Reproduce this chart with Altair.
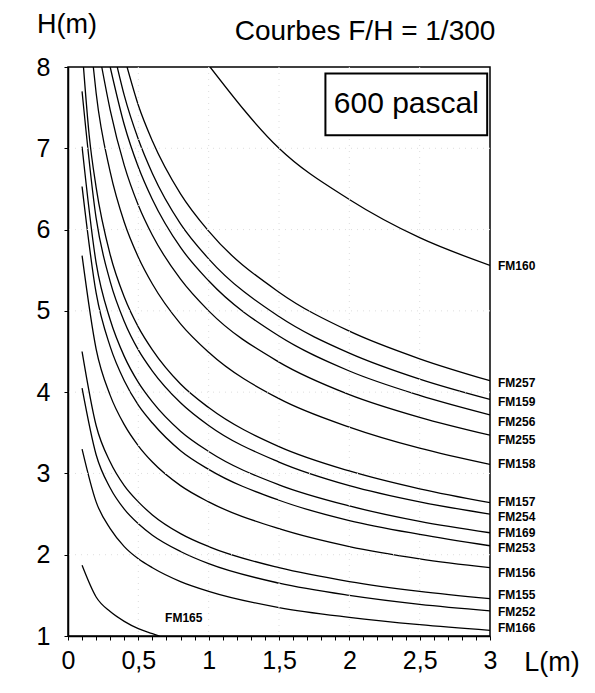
import altair as alt
import pandas as pd

# ---- data ----
grid_L = [0.1, 0.2, 0.3, 0.4, 0.5, 0.6, 0.8, 1.0, 1.5, 2.0, 2.5, 3.0]

FM160_L = [1.01, 1.5, 2.0, 2.5, 3.0]
FM160_H = [8.0, 7.0, 6.37, 5.9, 5.56]
FM257_L = [0.42, 0.5, 0.6, 0.8, 1.0, 1.5, 2.0, 2.5, 3.0]
FM257_H = [8.0, 7.53, 7.09, 6.44, 5.98, 5.23, 4.75, 4.41, 4.14]
FM159_L = [0.35, 0.4, 0.5, 0.6, 0.8, 1.0, 1.5, 2.0, 2.5, 3.0]
FM159_H = [8.0, 7.65, 7.11, 6.69, 6.07, 5.64, 4.93, 4.48, 4.16, 3.91]
FM256_L = [0.30, 0.4, 0.5, 0.6, 0.8, 1.0, 1.5, 2.0, 2.5, 3.0]
FM256_H = [8.0, 7.29, 6.77, 6.37, 5.78, 5.37, 4.69, 4.26, 3.96, 3.72]
FM255_L = [0.24, 0.3, 0.4, 0.5, 0.6, 0.8, 1.0, 1.5, 2.0, 2.5, 3.0]
FM255_H = [8.0, 7.47, 6.79, 6.30, 5.93, 5.39, 5.0, 4.37, 3.97, 3.69, 3.47]
FM158_L = [0.18, 0.2, 0.3, 0.4, 0.5, 0.6, 0.8, 1.0, 1.5, 2.0, 2.5, 3.0]
FM158_H = [8.0, 7.68, 6.71, 6.09, 5.66, 5.33, 4.84, 4.49, 3.92, 3.57, 3.31, 3.11]
FM157_L = [0.11, 0.15, 0.2, 0.3, 0.4, 0.5, 0.6, 0.8, 1.0, 1.5, 2.0, 2.5, 3.0]
FM157_H = [8.0, 7.17, 6.52, 5.69, 5.17, 4.80, 4.52, 4.10, 3.81, 3.33, 3.03, 2.81, 2.64]
FM254_H = [7.70, 6.14, 5.36, 4.87, 4.52, 4.26, 3.87, 3.59, 3.14, 2.85, 2.65, 2.50]
FM169_H = [7.02, 5.59, 4.89, 4.44, 4.12, 3.88, 3.52, 3.27, 2.86, 2.60, 2.41, 2.27]
FM253_H = [6.53, 5.22, 4.56, 4.14, 3.84, 3.62, 3.28, 3.05, 2.67, 2.42, 2.25, 2.11]
FM156_H = [5.68, 4.53, 3.96, 3.60, 3.34, 3.14, 2.85, 2.65, 2.32, 2.10, 1.95, 1.84]
FM155_H = [4.50, 3.59, 3.14, 2.85, 2.65, 2.49, 2.26, 2.10, 1.84, 1.67, 1.55, 1.46]
FM252_H = [4.05, 3.23, 2.82, 2.56, 2.38, 2.24, 2.04, 1.89, 1.65, 1.50, 1.39, 1.31]
FM166_H = [3.30, 2.65, 2.32, 2.10, 1.95, 1.84, 1.67, 1.55, 1.35, 1.23, 1.14, 1.07]
FM165_L = [0.1, 0.2, 0.3, 0.4, 0.5, 0.6, 0.65]
FM165_H = [1.87, 1.48, 1.30, 1.18, 1.09, 1.03, 1.0]

right_labels = ["FM160", "FM257", "FM159", "FM256", "FM255", "FM158", "FM157",
                "FM254", "FM169", "FM253", "FM156", "FM155", "FM252", "FM166"]
right_label_H = [5.55, 4.11, 3.88, 3.63, 3.41, 3.12, 2.65,
                 2.47, 2.27, 2.08, 1.78, 1.51, 1.29, 1.10]
inner_label = "FM165"
inner_label_L = 0.69
inner_label_H = 1.22

box_text = "600 pascal"
box_L = [1.83, 2.98]
box_H = [7.16, 7.92]

grid_L_lines = [0.5, 1.0, 1.5, 2.0, 2.5]
grid_H_lines = [2, 3, 4, 5, 6, 7]

x_tick_values = [round(i * 0.1, 1) for i in range(31)]
y_tick_values = [1, 2, 3, 4, 5, 6, 7, 8]

curves = [
    ("FM160", FM160_L, FM160_H), ("FM257", FM257_L, FM257_H),
    ("FM159", FM159_L, FM159_H), ("FM256", FM256_L, FM256_H),
    ("FM255", FM255_L, FM255_H), ("FM158", FM158_L, FM158_H),
    ("FM157", FM157_L, FM157_H), ("FM254", grid_L, FM254_H),
    ("FM169", grid_L, FM169_H), ("FM253", grid_L, FM253_H),
    ("FM156", grid_L, FM156_H), ("FM155", grid_L, FM155_H),
    ("FM252", grid_L, FM252_H), ("FM166", grid_L, FM166_H),
    ("FM165", FM165_L, FM165_H),
]

rows = []
for name, Ls, Hs in curves:
    for i, (l, h) in enumerate(zip(Ls, Hs)):
        rows.append({"curve": name, "L": l, "H": h, "o": i})
df = pd.DataFrame(rows)

FONT = "Liberation Sans, Arial, sans-serif"

xscale = alt.Scale(domain=[0, 3], nice=False, zero=False)
yscale = alt.Scale(domain=[1, 8], nice=False, zero=False)

x_axis = alt.Axis(
    values=x_tick_values,
    labelExpr="abs(datum.value*2 - round(datum.value*2)) < 0.01 ? replace(format(datum.value, '.1~f'), '.', ',') : ''",
    title=None, grid=False, tickSize=4, tickColor="black", domainColor="black",
    domainWidth=1.5, labelFont=FONT, labelFontSize=25, labelColor="black",
    labelPadding=8, labelFlush=False, labelOverlap=False, labelBound=False,
)
y_axis = alt.Axis(
    values=y_tick_values, format="d", title=None, grid=False, tickSize=4,
    tickColor="black", domainColor="black", domainWidth=1.5, labelFont=FONT,
    labelFontSize=25, labelColor="black", labelPadding=14, labelFlush=False,
    labelOverlap=False, labelBound=False,
)

def X(field):
    return alt.X(field, scale=xscale, axis=x_axis)

def Y(field):
    return alt.Y(field, scale=yscale, axis=y_axis)

lines = alt.Chart(df).mark_line(
    color="black", strokeWidth=1.3, clip=True, interpolate="monotone"
).encode(x=X("L:Q"), y=Y("H:Q"), detail="curve:N", order="o:Q")

grid_x = alt.Chart(pd.DataFrame({"L": grid_L_lines})).mark_rule(
    color="#dddddd", strokeDash=[1, 5], strokeWidth=1
).encode(x=X("L:Q"))

grid_y = alt.Chart(pd.DataFrame({"H": grid_H_lines})).mark_rule(
    color="#dddddd", strokeDash=[1, 5], strokeWidth=1
).encode(y=Y("H:Q"))

lab_df = pd.DataFrame({"t": right_labels, "L": [3.0] * len(right_labels), "H": right_label_H})
labels = alt.Chart(lab_df).mark_text(
    align="left", baseline="middle", dx=8, font=FONT, fontWeight="bold",
    fontSize=12, color="black",
).encode(x=X("L:Q"), y=Y("H:Q"), text="t:N")

inner = alt.Chart(pd.DataFrame({"t": [inner_label], "L": [inner_label_L], "H": [inner_label_H]})).mark_text(
    align="left", baseline="middle", font=FONT, fontWeight="bold", fontSize=12, color="black",
).encode(x=X("L:Q"), y=Y("H:Q"), text="t:N")

box_df = pd.DataFrame({"x0": [box_L[0]], "x1": [box_L[1]], "y0": [box_H[0]], "y1": [box_H[1]],
                       "t": [box_text], "xc": [sum(box_L) / 2], "yc": [sum(box_H) / 2]})
box = alt.Chart(box_df).mark_rect(fill="white", stroke="black", strokeWidth=2).encode(
    x=X("x0:Q"), x2="x1:Q", y=Y("y0:Q"), y2="y1:Q",
)
box_label = alt.Chart(box_df).mark_text(
    align="center", baseline="middle", font=FONT, fontSize=30, color="black"
).encode(x=X("xc:Q"), y=Y("yc:Q"), text="t:N")

def free_text(txt, x, y, size, align="center"):
    return alt.Chart(pd.DataFrame({"t": [txt]})).mark_text(
        align=align, baseline="middle", font=FONT, fontSize=size, color="black"
    ).encode(x=alt.value(x), y=alt.value(y), text="t:N")

t_h = free_text("H(m)", -1, -42, 27)
t_title = free_text("Courbes F/H = 1/300", 297, -35, 28)
t_l = free_text("L(m)", 484, 27 + 569, 27)

chart = alt.layer(
    lines, grid_x, grid_y, labels, inner, box, box_label, t_h, t_title, t_l
).properties(
    width=422, height=569,
    autosize=alt.AutoSizeParams(type="none"),
    padding={"left": 68, "top": 67, "right": 105, "bottom": 57},
).configure_view(stroke="black", strokeWidth=1.5)

chart.save("out.html", embed_options={"renderer": "svg", "actions": False})
